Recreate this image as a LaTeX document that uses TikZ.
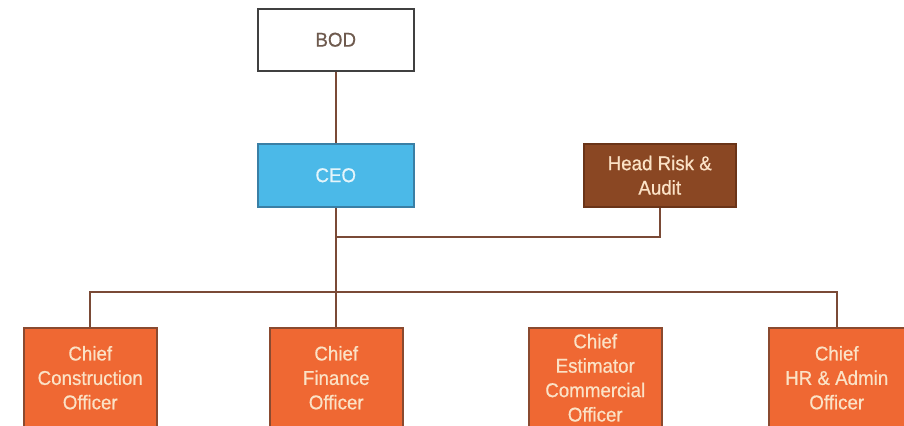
\documentclass[tikz,border=0pt]{standalone}
\usepackage{fontspec}
\setmainfont{Liberation Sans}[FakeStretch=0.94,FakeBold=0.6]
\definecolor{orangefill}{HTML}{EF6833}
\definecolor{orangeedge}{HTML}{8A4A30}
\definecolor{bluefill}{HTML}{4BB9E8}
\definecolor{blueedge}{HTML}{3A7FA5}
\definecolor{brownfill}{HTML}{8A4723}
\definecolor{brownedge}{HTML}{6A3418}
\definecolor{linecol}{HTML}{7A4A36}
\definecolor{creamtext}{HTML}{FBE2C6}
\definecolor{bodtext}{HTML}{6E5A4E}
\tikzset{
  basebox/.style={rectangle, line width=1.5bp, align=center, font=\fontsize{20}{24.5}\selectfont, anchor=north west, inner sep=0pt},
  bodbox/.style={basebox, draw=black!75, fill=white, text=bodtext},
  ceobox/.style={basebox, draw=blueedge, fill=bluefill, text=white!85!bluefill},
  riskbox/.style={basebox, draw=brownedge, fill=brownfill, text=creamtext},
  chiefbox/.style={basebox, draw=orangeedge, fill=orangefill, text=creamtext, minimum width=133bp, minimum height=100bp},
  conn/.style={draw=linecol, line width=2.2bp}
}
\begin{document}
\begin{tikzpicture}[x=1bp,y=-1bp]
\useasboundingbox (0,0) rectangle (904,425);
\clip (0,0) rectangle (904,425);
\node[bodbox, minimum width=156bp, minimum height=62bp] (bod) at (257,8) {BOD};
\node[ceobox, minimum width=156bp, minimum height=63bp] (ceo) at (257,143) {CEO};
\node[riskbox, minimum width=152bp, minimum height=63bp] (risk) at (583,143) {Head Risk \&\\Audit};
\node[chiefbox] (cco) at (23,327) {Chief\\Construction\\Officer};
\node[chiefbox] (cfo) at (269,327) {Chief\\Finance\\Officer};
\node[chiefbox] (ceco) at (528,327) {Chief\\Estimator\\Commercial\\Officer};
\node[chiefbox, minimum width=136bp] (hr) at (768,327) {Chief\\HR \& Admin\\Officer};
\coordinate (riskj) at (ceo.south |- 0,237);
\coordinate (bus) at (ceo.south |- 0,292);
\draw[conn] (bod.south) -- (ceo.north);
\draw[conn] (ceo.south) -- (bus);
\draw[conn] (risk.south) |- (riskj);
\draw[conn] (cco.north) |- (bus) -- (hr.north |- bus) -- (hr.north);
\draw[conn] (cfo.north) -- (cfo.north |- bus);
\end{tikzpicture}
\end{document}
